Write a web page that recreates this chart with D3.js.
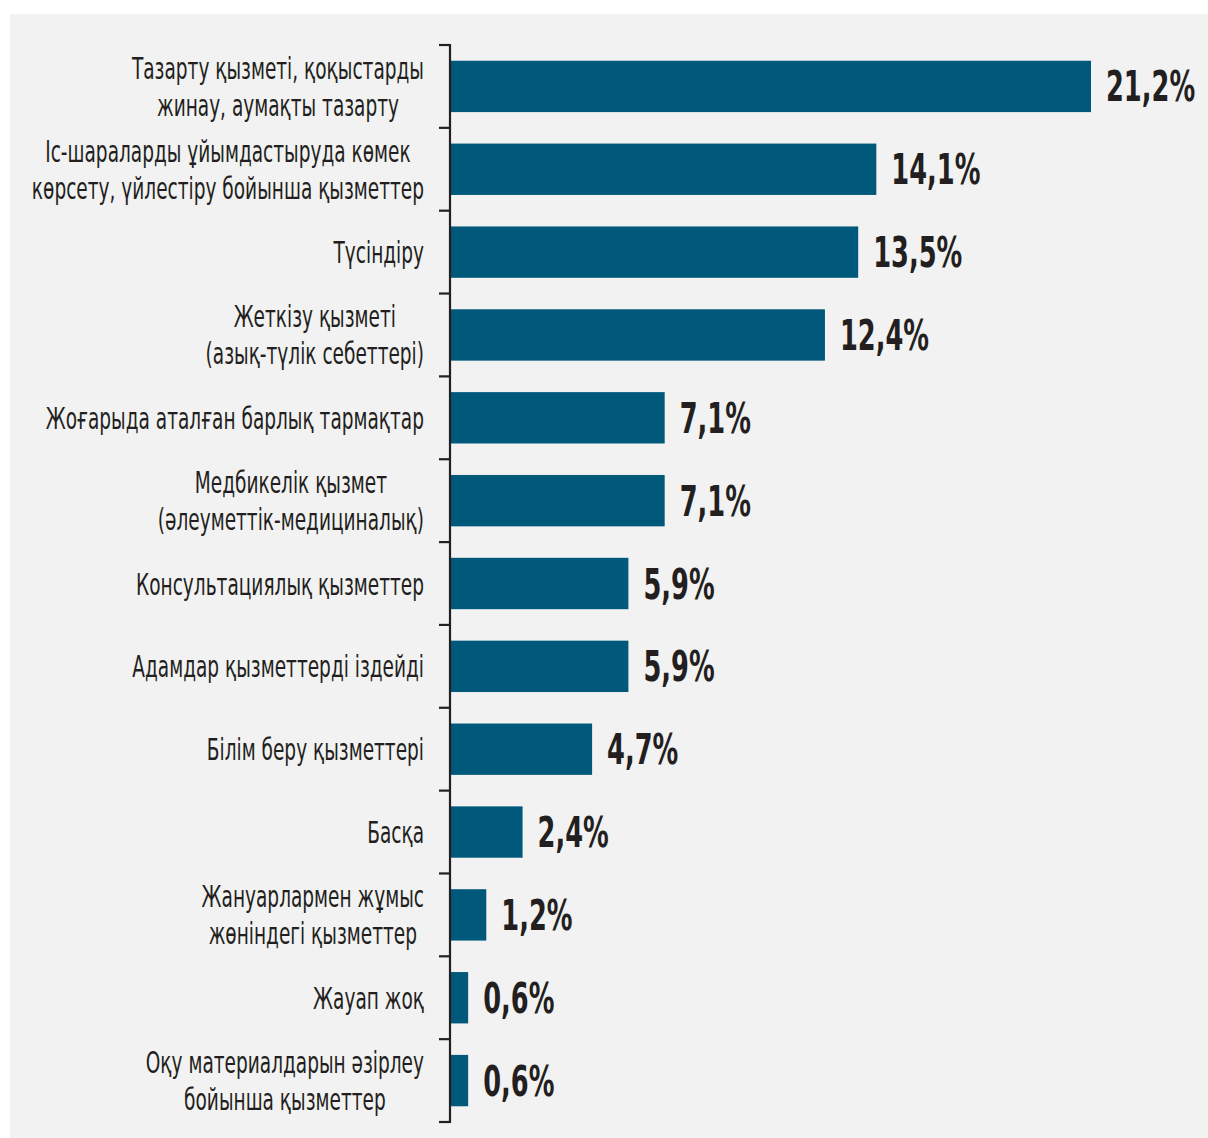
<!DOCTYPE html>
<html>
<head>
<meta charset="utf-8">
<script src="https://cdn.jsdelivr.net/npm/d3@7"></script>
<style>
  html, body { margin: 0; padding: 0; background: #ffffff; }
  svg { display: block; }
</style>
</head>
<body>
<svg id="chart" width="1208" height="1138"></svg>
<script>
const categories = [
  ["Тазарту қызметі, қоқыстарды", "жинау, аумақты тазарту"],
  ["Іс-шараларды ұйымдастыруда көмек", "көрсету, үйлестіру бойынша қызметтер"],
  ["Түсіндіру"],
  ["Жеткізу қызметі", "(азық-түлік себеттері)"],
  ["Жоғарыда аталған барлық тармақтар"],
  ["Медбикелік қызмет", "(әлеуметтік-медициналық)"],
  ["Консультациялық қызметтер"],
  ["Адамдар қызметтерді іздейді"],
  ["Білім беру қызметтері"],
  ["Басқа"],
  ["Жануарлармен жұмыс", "жөніндегі қызметтер"],
  ["Жауап жоқ"],
  ["Оқу материалдарын әзірлеу", "бойынша қызметтер"]
];
const values = [21.2, 14.1, 13.5, 12.4, 7.1, 7.1, 5.9, 5.9, 4.7, 2.4, 1.2, 0.6, 0.6];
const valueLabels = ["21,2%", "14,1%", "13,5%", "12,4%", "7,1%", "7,1%", "5,9%", "5,9%", "4,7%", "2,4%", "1,2%", "0,6%", "0,6%"];

const W = 1208, H = 1138;
const svg = d3.select("#chart");
const ink = "#231f20";
const barColor = "#00587a";
const labelFont = "'Liberation Sans Narrow', 'DejaVu Sans Condensed', 'Roboto', sans-serif";

svg.append("rect").attr("x", 10).attr("y", 14).attr("width", W - 10).attr("height", H - 14).attr("fill", "#f2f2f2");

const ids = categories.map((c, i) => i);
const y = d3.scaleBand().domain(ids).range([45, 1122]).paddingInner(0.38).paddingOuter(0.19);
const x = d3.scaleLinear().domain([0, 21.2]).range([450, 1091]);
const axisX = x(0);

// bars
svg.append("g").selectAll("rect").data(values).join("rect")
  .attr("x", axisX)
  .attr("y", (d, i) => y(i))
  .attr("width", d => x(d) - axisX)
  .attr("height", y.bandwidth())
  .attr("fill", barColor);

// axis line + boundary ticks
const step = y.step();
const bounds = ids.map(i => y(i) - step * y.paddingInner() / 2);
bounds.push(y(ids.length - 1) + y.bandwidth() + step * y.paddingInner() / 2);
const ax = svg.append("g").attr("stroke", ink).attr("stroke-width", 2.2).attr("fill", "none");
ax.append("line").attr("x1", axisX).attr("x2", axisX).attr("y1", bounds[0] - 1).attr("y2", bounds[bounds.length - 1] + 1);
ax.selectAll(".tk").data(bounds).join("line").attr("class", "tk")
  .attr("x1", axisX - 11).attr("x2", axisX).attr("y1", d => d).attr("y2", d => d);

// category labels
const sx = 0.665, fs = 31, lineH = 37;
const labelRight = axisX - 26;
categories.forEach((lines, i) => {
  const cy = y(i) + y.bandwidth() / 2;
  const g = svg.append("g").attr("transform", `translate(${labelRight},${cy}) scale(${sx},1)`);
  const texts = lines.map((t, k) => g.append("text")
    .attr("font-family", labelFont).attr("font-size", fs).attr("fill", ink)
    .attr("text-anchor", "middle")
    .attr("y", (k - (lines.length - 1) / 2) * lineH + 11)
    .text(t));
  const maxW = d3.max(texts, t => t.node().getComputedTextLength());
  texts.forEach(t => t.attr("x", -maxW / 2));
});

// value labels
const vsx = 0.68;
values.forEach((v, i) => {
  const cy = y(i) + y.bandwidth() / 2;
  svg.append("g").attr("transform", `translate(${x(v) + 15},${cy + 15}) scale(${vsx},1)`)
    .append("text")
    .attr("font-family", labelFont).attr("font-weight", "bold").attr("font-size", 42).attr("fill", ink)
    .text(valueLabels[i]);
});
</script>
</body>
</html>
